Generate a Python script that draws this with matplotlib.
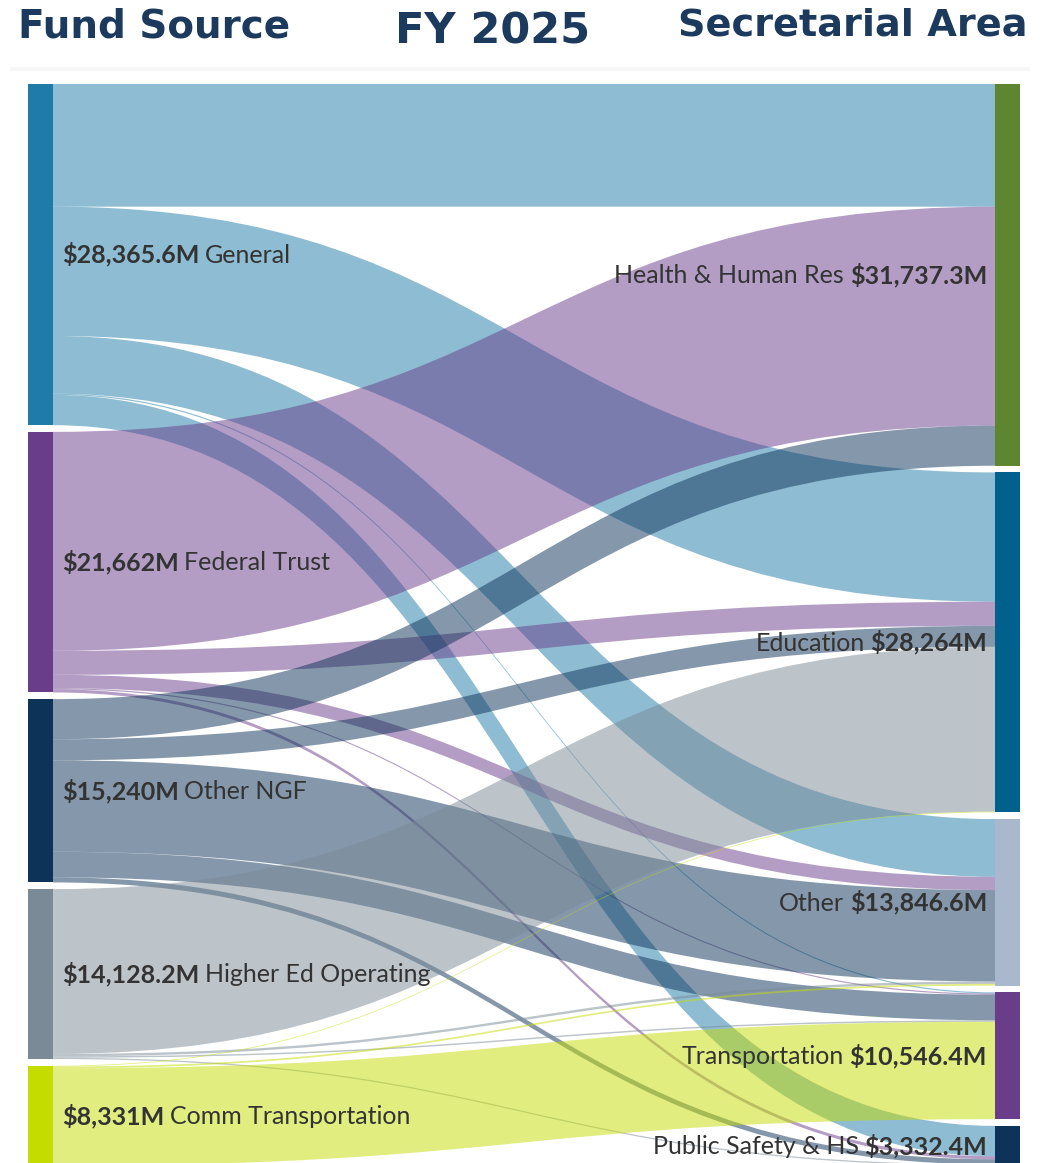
import matplotlib
matplotlib.use('Agg')
from matplotlib import pyplot
from matplotlib.path import Path
from matplotlib.patches import PathPatch, Rectangle
import numpy as np

# Fund sources (left side)
sources = ['General', 'Federal Trust', 'Other NGF', 'Higher Ed Operating', 'Comm Transportation']
source_totals = ['$28,365.6M', '$21,662M', '$15,240M', '$14,128.2M', '$8,331M']
source_colours = ['#1f7ba8', '#6a3d8a', '#0d3358', '#7a8a96', '#c5dc00']

# Secretarial areas (right side)
targets = ['Health & Human Res', 'Education', 'Other', 'Transportation', 'Public Safety & HS']
target_totals = ['$31,737.3M', '$28,264M', '$13,846.6M', '$10,546.4M', '$3,332.4M']
target_colours = ['#5e8530', '#00628c', '#a9b8cc', '#6a3d8a', '#0d3358']

# flows in $M, one list per fund source, in the order of targets
general = [10200.0, 10750.0, 4800.0, 100.0, 2515.6]
federal_trust = [18200.0, 2000.0, 1100.0, 100.0, 262.0]
other_ngf = [3337.3, 1750.0, 7600.0, 2126.4, 426.3]
higher_ed = [0.0, 13700.0, 200.0, 120.0, 108.2]
comm_transport = [0.0, 64.0, 146.6, 8100.0, 20.4]

title_colour = '#1b3a5e'
text_colour = '#333333'

# layout (pixels)
W, H, dpi = 1040, 1163, 100
top_px = 84
gap_px = 6.7
px_per_m = 0.012028
left_x = (28, 53)
right_x = (995, 1020)


def stack(sizes, gap):
    tops = []
    y = 0.
    for s in sizes:
        tops.append(y)
        y += s + gap
    return np.array(tops)


def band(ax, x0, x1, y0, y1, h, colour):
    """ Smooth ribbon from (x0, y0) to (x1, y1) with height h. """
    xm = (x0 + x1) / 2.
    verts = [(x0, y0), (xm, y0), (xm, y1), (x1, y1),
             (x1, y1 + h), (xm, y1 + h), (xm, y0 + h), (x0, y0 + h),
             (x0, y0)]
    codes = [Path.MOVETO, Path.CURVE4, Path.CURVE4, Path.CURVE4,
             Path.LINETO, Path.CURVE4, Path.CURVE4, Path.CURVE4,
             Path.CLOSEPOLY]
    patch = PathPatch(Path(verts, codes), facecolor=colour, alpha=0.5, lw=0)
    ax.add_patch(patch)


flows = np.array([general, federal_trust, other_ngf, higher_ed, comm_transport])
gap = gap_px / px_per_m

src_tops = stack(flows.sum(axis=1), gap)
tgt_tops = stack(flows.sum(axis=0), gap)

fig = pyplot.figure()
fig.set_size_inches(W / dpi, H / dpi)
ax = fig.add_axes([0, 0, 1, 1])
ax.set_xlim(0, W)
ax.set_ylim((H - top_px) / px_per_m, -top_px / px_per_m)
ax.axis('off')

# faint card edge under the titles
ax.plot([10, 1030], [-15 / px_per_m] * 2, color='#f7f7f7', lw=3, solid_capstyle='butt')

# ribbons
src_off = src_tops.copy()
tgt_off = tgt_tops.copy()
for i in range(len(sources)):
    for j in range(len(targets)):
        v = flows[i, j]
        if v <= 0:
            continue
        band(ax, left_x[1], right_x[0], src_off[i], tgt_off[j], v, source_colours[i])
        src_off[i] += v
        tgt_off[j] += v

# node bars
for i, s in enumerate(flows.sum(axis=1)):
    ax.add_patch(Rectangle((left_x[0], src_tops[i]), left_x[1] - left_x[0], s,
                           facecolor=source_colours[i], lw=0))
for j, s in enumerate(flows.sum(axis=0)):
    ax.add_patch(Rectangle((right_x[0], tgt_tops[j]), right_x[1] - right_x[0], s,
                           facecolor=target_colours[j], lw=0))

label_font = dict(family='Lato', fontsize=18, color=text_colour)

# left labels: bold total then name
for i, name in enumerate(sources):
    yc = src_tops[i] + flows[i].sum() / 2.
    t1 = ax.text(62, yc, source_totals[i], fontweight='bold', va='center', ha='left', **label_font)
    ax.annotate(name, xy=(1, 0), xycoords=t1, xytext=(4, 0), textcoords='offset points',
                va='bottom', ha='left', **label_font)

# right labels: name then bold total
for j, name in enumerate(targets):
    yc = tgt_tops[j] + flows[:, j].sum() / 2.
    t1 = ax.text(987, yc, target_totals[j], fontweight='bold', va='center', ha='right', **label_font)
    ax.annotate(name, xy=(0, 0), xycoords=t1, xytext=(-4, 0), textcoords='offset points',
                va='bottom', ha='right', **label_font)

# titles
title_font = dict(family='DejaVu Sans', fontweight='bold', color=title_colour)
ax.text(18, -58 / px_per_m, 'Fund Source', ha='left', va='center', fontsize=28, **title_font)
ax.text(493, -53 / px_per_m, 'FY 2025', ha='center', va='center', fontsize=31, **title_font)
ax.text(1027, -58 / px_per_m, 'Secretarial Area', ha='right', va='center', fontsize=27.5, **title_font)

pyplot.savefig('out.png', dpi=dpi)
pyplot.close()
